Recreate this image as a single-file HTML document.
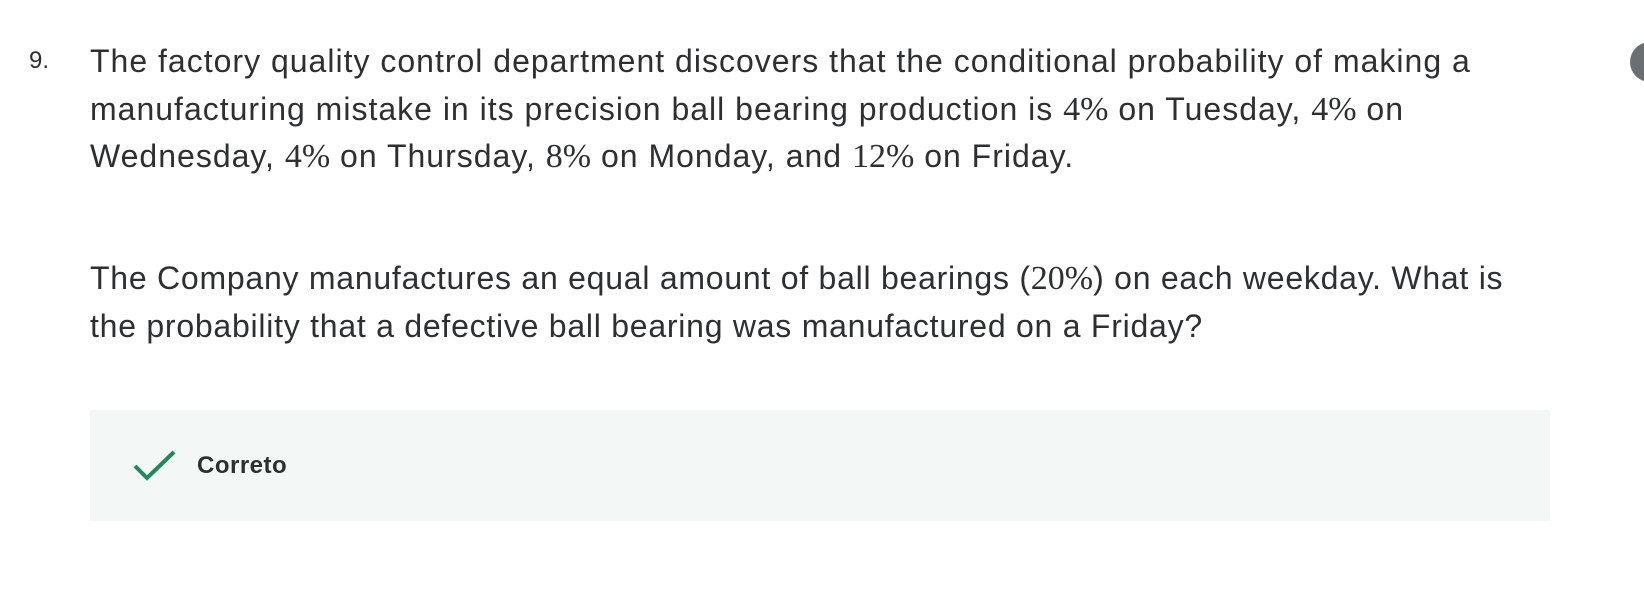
<!DOCTYPE html>
<html><head><meta charset="utf-8"><style>
body{margin:0;width:1644px;height:592px;background:#fff;overflow:hidden;font-family:"Liberation Sans",sans-serif;color:#2d2f31;position:relative}
.l{position:absolute;left:90px;font-size:32px;letter-spacing:1px;white-space:nowrap;line-height:48px}
.p2{letter-spacing:0.75px}
.m{font-family:"Liberation Serif",serif;font-size:34px;letter-spacing:0}
</style></head><body>
<div style="position:absolute;left:29px;top:43px;font-size:24px;line-height:36px">9.</div>
<div>
<div class="l" style="top:37px">The factory quality control department discovers that the conditional probability of making a</div>
<div class="l" style="top:85px">manufacturing mistake in its precision ball bearing production is <span class="m">4%</span> on Tuesday, <span class="m">4%</span> on</div>
<div class="l" style="top:132px">Wednesday, <span class="m">4%</span> on Thursday, <span class="m">8%</span> on Monday, and <span class="m">12%</span> on Friday.</div>
<div class="l p2" style="top:254px">The Company manufactures an equal amount of ball bearings (<span class="m">20%</span>) on each weekday. What is</div>
<div class="l p2" style="top:302px">the probability that a defective ball bearing was manufactured on a Friday?</div>
</div>
<div style="position:absolute;left:90px;top:410px;width:1460px;height:111px;background:#f3f8f6"></div>
<svg style="position:absolute;left:132px;top:448px" width="46" height="36" viewBox="0 0 46 36"><path d="M3 18 L15 30 L42 4" fill="none" stroke="#1e8a5a" stroke-width="4"/></svg>
<div style="position:absolute;left:197px;top:451px;font-size:24px;letter-spacing:0.5px;font-weight:bold;line-height:30px">Correto</div>
<div style="position:absolute;left:1630px;top:42px;width:40px;height:40px;border-radius:50%;background:#6a6f73"></div>
</body></html>
